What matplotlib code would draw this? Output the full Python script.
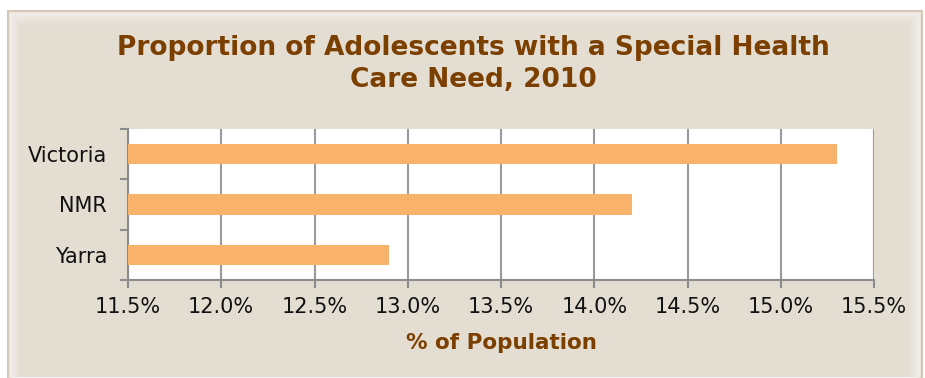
import matplotlib
matplotlib.use("Agg")
import matplotlib.pyplot as plt
from matplotlib.patches import Rectangle
import numpy as np

regions = ["Victoria", "NMR", "Yarra"]
values = [15.3, 14.2, 12.9]
xticks = [11.5, 12.0, 12.5, 13.0, 13.5, 14.0, 14.5, 15.0, 15.5]

brown = "#7B3F00"
bg = "#E3DDD2"

fig = plt.figure(figsize=(9.25, 3.78), dpi=100)
fig.patch.set_facecolor("white")
# beige panel with border
fig.patches.append(Rectangle((8 / 925, 0), 914 / 925, 367 / 378, transform=fig.transFigure,
                             facecolor=bg, edgecolor="#D3C9B6", linewidth=1.5, zorder=-5))
# soft light glow inside the panel edge
for i in range(12):
    inset = 2 + i
    fig.patches.append(Rectangle(((8 + inset) / 925, 0), (914 - 2 * inset) / 925, (367 - inset) / 378,
                                 transform=fig.transFigure, facecolor="none", edgecolor="white",
                                 linewidth=1.2, alpha=0.35 * (1 - i / 12), zorder=-4))

ax = fig.add_axes([128 / 925, 1 - 280 / 378, 746 / 925, 151 / 378])
ax.set_facecolor("white")

y = np.arange(len(regions))[::-1]
ax.barh(y, values, height=0.4, color="#F9B26B", zorder=3)

ax.set_xlim(11.5, 15.5)
ax.set_ylim(-0.5, 2.5)
ax.set_xticks(xticks)
ax.set_xticklabels([f"{v:.1f}%" for v in xticks], fontsize=15, color="#111111")
ax.set_yticks(y)
ax.set_yticklabels(regions, fontsize=15, color="#111111")
ax.tick_params(axis="y", length=0, pad=15)
ax.set_yticks([-0.5, 0.5, 1.5, 2.5], minor=True)
ax.tick_params(axis="y", which="minor", length=6, color="#8C8C8C", width=1.5)
ax.tick_params(axis="x", length=6, color="#8C8C8C", width=1.5, pad=6)

ax.grid(axis="x", color="#9A9A9A", linewidth=1.5, zorder=1)
for s in ["top", "right"]:
    ax.spines[s].set_visible(False)
for s in ["left", "bottom"]:
    ax.spines[s].set_color("#8C8C8C")
    ax.spines[s].set_linewidth(1.5)

ax.set_xlabel("% of Population", fontsize=15.5, fontweight="bold", color=brown, labelpad=12)

fig.text(0.512, 1 - 64 / 378, "Proportion of Adolescents with a Special Health\nCare Need, 2010",
         ha="center", va="center", fontsize=19, fontweight="bold", color=brown, linespacing=1.3)

fig.savefig("out.png", dpi=100, facecolor=fig.get_facecolor())
